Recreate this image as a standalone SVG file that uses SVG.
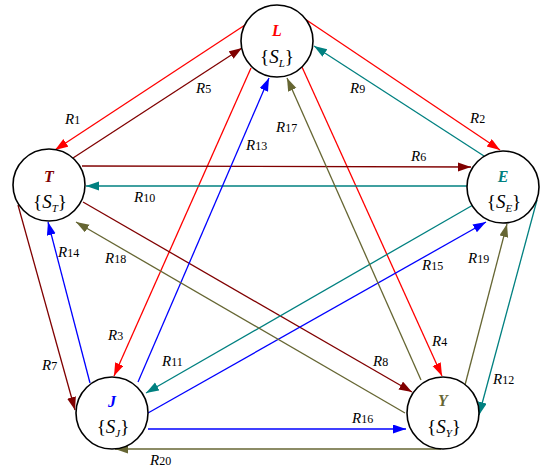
<svg xmlns="http://www.w3.org/2000/svg" width="556" height="475" viewBox="0 0 556 475">
<style>
.node{fill:#fff;stroke:#000;stroke-width:1.6}
.e{fill:none;stroke-width:1.3}
.r{stroke:#ff0000}.d{stroke:#800000}.t{stroke:#008080}.b{stroke:#0000ff}.o{stroke:#666633}
.lbl{font-family:"Liberation Serif",serif;font-style:italic;font-size:15px;fill:#000}
.num{font-style:normal;font-size:12px}
.nm{font-family:"Liberation Serif",serif;font-style:italic;font-weight:bold;font-size:16px;text-anchor:middle}
.set{font-family:"Liberation Serif",serif;font-size:19px;text-anchor:middle;fill:#000}
.sub{font-style:italic;font-size:11px}
</style>
<defs>
<marker id="aR" markerUnits="userSpaceOnUse" markerWidth="14" markerHeight="10" refX="13" refY="4.5" orient="auto"><path d="M0,0 L13,4.5 L0,9 z" fill="#ff0000"/></marker>
<marker id="aD" markerUnits="userSpaceOnUse" markerWidth="14" markerHeight="10" refX="13" refY="4.5" orient="auto"><path d="M0,0 L13,4.5 L0,9 z" fill="#800000"/></marker>
<marker id="aT" markerUnits="userSpaceOnUse" markerWidth="14" markerHeight="10" refX="13" refY="4.5" orient="auto"><path d="M0,0 L13,4.5 L0,9 z" fill="#008080"/></marker>
<marker id="aB" markerUnits="userSpaceOnUse" markerWidth="14" markerHeight="10" refX="13" refY="4.5" orient="auto"><path d="M0,0 L13,4.5 L0,9 z" fill="#0000ff"/></marker>
<marker id="aO" markerUnits="userSpaceOnUse" markerWidth="14" markerHeight="10" refX="13" refY="4.5" orient="auto"><path d="M0,0 L13,4.5 L0,9 z" fill="#666633"/></marker>
</defs>
<g id="connectors">
<line class="e r" x1="245" y1="25" x2="55" y2="150" marker-end="url(#aR)"/>
<line class="e r" x1="305" y1="19" x2="500" y2="150" marker-end="url(#aR)"/>
<line class="e r" x1="251" y1="68" x2="114" y2="376" marker-end="url(#aR)"/>
<line class="e r" x1="302" y1="67" x2="442" y2="376" marker-end="url(#aR)"/>
<line class="e d" x1="73" y1="158" x2="242" y2="48" marker-end="url(#aD)"/>
<line class="e d" x1="82" y1="166" x2="471" y2="167" marker-end="url(#aD)"/>
<line class="e d" x1="18" y1="205" x2="75" y2="410" marker-end="url(#aD)"/>
<line class="e d" x1="83" y1="202" x2="412" y2="392" marker-end="url(#aD)"/>
<line class="e t" x1="484" y1="156" x2="314" y2="46" marker-end="url(#aT)"/>
<line class="e t" x1="467" y1="186" x2="86" y2="186" marker-end="url(#aT)"/>
<line class="e t" x1="473" y1="205" x2="146" y2="393" marker-end="url(#aT)"/>
<line class="e t" x1="537" y1="200" x2="479" y2="415" marker-end="url(#aT)"/>
<line class="e b" x1="138" y1="382" x2="269" y2="78" marker-end="url(#aB)"/>
<line class="e b" x1="90" y1="383" x2="48" y2="222" marker-end="url(#aB)"/>
<line class="e b" x1="148" y1="413" x2="486" y2="222" marker-end="url(#aB)"/>
<line class="e b" x1="148" y1="429" x2="406" y2="429" marker-end="url(#aB)"/>
<line class="e o" x1="421" y1="380" x2="287" y2="78" marker-end="url(#aO)"/>
<line class="e o" x1="405" y1="413" x2="76" y2="222" marker-end="url(#aO)"/>
<line class="e o" x1="465" y1="385" x2="507" y2="224" marker-end="url(#aO)"/>
<line class="e o" x1="441" y1="449" x2="115" y2="449" marker-end="url(#aO)"/>
</g>
<g id="labels">
<text class="lbl" x="65" y="124">R<tspan class="num">1</tspan></text>
<text class="lbl" x="470" y="123">R<tspan class="num">2</tspan></text>
<text class="lbl" x="108" y="340">R<tspan class="num">3</tspan></text>
<text class="lbl" x="432" y="346">R<tspan class="num">4</tspan></text>
<text class="lbl" x="196" y="93">R<tspan class="num">5</tspan></text>
<text class="lbl" x="411" y="161">R<tspan class="num">6</tspan></text>
<text class="lbl" x="42" y="370">R<tspan class="num">7</tspan></text>
<text class="lbl" x="373" y="366">R<tspan class="num">8</tspan></text>
<text class="lbl" x="350" y="93">R<tspan class="num">9</tspan></text>
<text class="lbl" x="134" y="202">R<tspan class="num">10</tspan></text>
<text class="lbl" x="162" y="366">R<tspan class="num">11</tspan></text>
<text class="lbl" x="493" y="384">R<tspan class="num">12</tspan></text>
<text class="lbl" x="246" y="150">R<tspan class="num">13</tspan></text>
<text class="lbl" x="58" y="257">R<tspan class="num">14</tspan></text>
<text class="lbl" x="422" y="270">R<tspan class="num">15</tspan></text>
<text class="lbl" x="352" y="423">R<tspan class="num">16</tspan></text>
<text class="lbl" x="276" y="132">R<tspan class="num">17</tspan></text>
<text class="lbl" x="105" y="263">R<tspan class="num">18</tspan></text>
<text class="lbl" x="468" y="263">R<tspan class="num">19</tspan></text>
<text class="lbl" x="150" y="465">R<tspan class="num">20</tspan></text>
</g>
<g id="node-L">
<circle class="node" cx="277" cy="41" r="36"/>
<text class="nm" x="277" y="36" fill="#ff0000">L</text>
<text class="set" x="277" y="63">{<tspan font-style="italic">S</tspan><tspan class="sub" dy="4">L</tspan><tspan dy="-4">}</tspan></text>
</g>
<g id="node-T">
<circle class="node" cx="49" cy="185" r="36"/>
<text class="nm" x="49" y="182" fill="#800000">T</text>
<text class="set" x="50" y="208">{<tspan font-style="italic">S</tspan><tspan class="sub" dy="4">T</tspan><tspan dy="-4">}</tspan></text>
</g>
<g id="node-E">
<circle class="node" cx="503" cy="187" r="36"/>
<text class="nm" x="503" y="182" fill="#008080">E</text>
<text class="set" x="504" y="208">{<tspan font-style="italic">S</tspan><tspan class="sub" dy="4">E</tspan><tspan dy="-4">}</tspan></text>
</g>
<g id="node-J">
<circle class="node" cx="112" cy="413" r="36"/>
<text class="nm" x="112" y="407" fill="#0000ff">J</text>
<text class="set" x="113" y="433">{<tspan font-style="italic">S</tspan><tspan class="sub" dy="4">J</tspan><tspan dy="-4">}</tspan></text>
</g>
<g id="node-Y">
<circle class="node" cx="443" cy="413" r="36"/>
<text class="nm" x="443" y="406" fill="#666633">Y</text>
<text class="set" x="444" y="433">{<tspan font-style="italic">S</tspan><tspan class="sub" dy="4">Y</tspan><tspan dy="-4">}</tspan></text>
</g>
</svg>
